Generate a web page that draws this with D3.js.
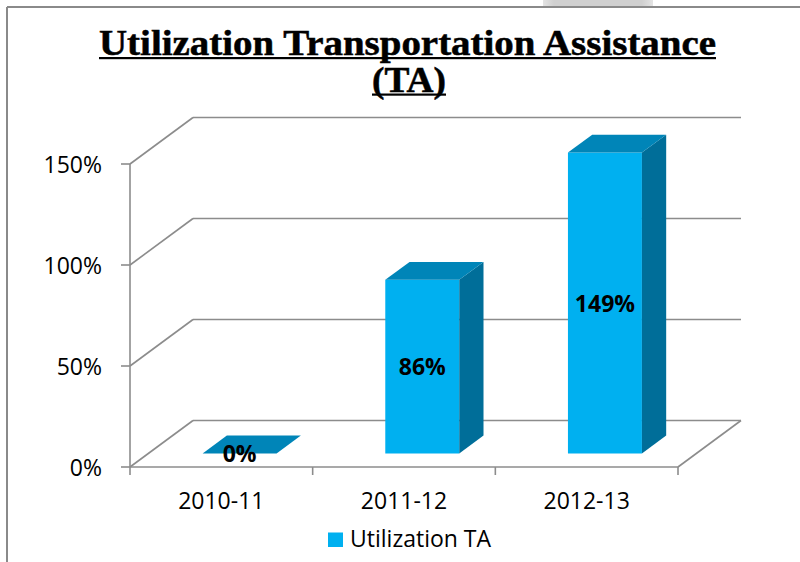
<!DOCTYPE html>
<html>
<head>
<meta charset="utf-8">
<script src="https://cdn.jsdelivr.net/npm/d3@7"></script>
<style>
  html, body { margin: 0; padding: 0; background: #fff; }
  svg { display: block; }
</style>
</head>
<body>
<svg id="chart" width="800" height="562"></svg>
<script>
// ---- data ----
const categories = ["2010-11", "2011-12", "2012-13"];
const values = [0, 86, 149];
const valueLabels = ["0%", "86%", "149%"];
const yTicks = [0, 50, 100, 150];
const yTickLabels = ["0%", "50%", "100%", "150%"];
const seriesName = "Utilization TA";
const titleLines = ["Utilization Transportation Assistance", "(TA)"];

// ---- layout ----
const svg = d3.select("#chart");
const DX = 63, DY = -46.5;          // depth vector of the 3D box
const F0 = 0.29, F1 = 0.675;        // depth fraction of bars (front / back)
const gridColor = "#8c8c8c";
const colFront = "#00b0f0", colTop = "#0085b8", colSide = "#006e99";

const x = d3.scaleBand().domain(categories).range([130, 678]).padding(0);
const y = d3.scaleLinear().domain([0, 150]).range([467, 164]);
const barW = x.bandwidth() * 0.405;

const pt = (px, py, f) => [px + f * DX, py + f * DY];
const poly = pts => pts.map(p => p.join(",")).join(" ");

// frame of the picture
const grad = svg.append("defs").append("linearGradient").attr("id", "tab")
  .attr("x1", 0).attr("x2", 1).attr("y1", 0).attr("y2", 0);
grad.append("stop").attr("offset", "0").attr("stop-color", "#e4e4e4");
grad.append("stop").attr("offset", "0.1").attr("stop-color", "#d0d0d0");
grad.append("stop").attr("offset", "0.9").attr("stop-color", "#d0d0d0");
grad.append("stop").attr("offset", "1").attr("stop-color", "#e4e4e4");
svg.append("rect").attr("x", 543).attr("y", 0).attr("width", 110).attr("height", 7).attr("fill", "url(#tab)");
svg.append("line").attr("x1", 7).attr("y1", 7).attr("x2", 800).attr("y2", 7)
  .attr("stroke", "#8a8a8a").attr("stroke-width", 2);
svg.append("line").attr("x1", 7).attr("y1", 7).attr("x2", 7).attr("y2", 562)
  .attr("stroke", "#8a8a8a").attr("stroke-width", 2);

// title
const title = svg.append("g").attr("fill", "#000").attr("stroke", "#000").attr("stroke-width", 0.5);
title.append("text").attr("x", 407.5).attr("y", 55)
  .attr("text-anchor", "middle")
  .attr("font-family", "'Liberation Serif', 'DejaVu Serif', serif")
  .attr("font-weight", "bold").attr("font-size", 35)
  .attr("textLength", 617).attr("lengthAdjust", "spacingAndGlyphs")
  .text(titleLines[0]);
title.append("text").attr("x", 409).attr("y", 92)
  .attr("text-anchor", "middle")
  .attr("font-family", "'Liberation Serif', 'DejaVu Serif', serif")
  .attr("font-weight", "bold").attr("font-size", 35)
  .attr("textLength", 74).attr("lengthAdjust", "spacingAndGlyphs")
  .text(titleLines[1]);
title.append("rect").attr("x", 99).attr("y", 57).attr("width", 617).attr("height", 2.2).attr("stroke", "none");
title.append("rect").attr("x", 372).attr("y", 93.5).attr("width", 74).attr("height", 2.2).attr("stroke", "none");

// grid: back wall and left wall
const g = svg.append("g").attr("fill", "none").attr("stroke", gridColor).attr("stroke-width", 1.6);
const [xL, xR] = x.range();
yTicks.forEach(t => {
  const yy = y(t);
  const b0 = pt(xL, yy, 1), b1 = pt(xR, yy, 1);
  g.append("line").attr("x1", b0[0]).attr("y1", b0[1]).attr("x2", b1[0]).attr("y2", b1[1]);
  g.append("line").attr("x1", xL).attr("y1", yy).attr("x2", b0[0]).attr("y2", b0[1]);
  g.append("line").attr("x1", xL - 9).attr("y1", yy).attr("x2", xL).attr("y2", yy);
});
// floor: front edge and right edge
const fr = pt(xR, y(0), 1);
g.append("line").attr("x1", xL).attr("y1", y(0)).attr("x2", xR).attr("y2", y(0));
g.append("line").attr("x1", xR).attr("y1", y(0)).attr("x2", fr[0]).attr("y2", fr[1]);
// vertical axis
g.append("line").attr("x1", xL).attr("y1", y(150)).attr("x2", xL).attr("y2", y(0));
// category ticks
const xTickPos = categories.map(c => x(c)).concat([xR]);
xTickPos.forEach(px => {
  g.append("line").attr("x1", px).attr("y1", y(0)).attr("x2", px).attr("y2", y(0) + 8);
});

// y tick labels
svg.append("g").selectAll("text").data(yTicks).join("text")
  .attr("x", 102).attr("y", d => y(d) + 8.5)
  .attr("text-anchor", "end")
  .attr("font-family", "'Open Sans', sans-serif").attr("font-size", 23).attr("fill", "#000")
  .text((d, i) => yTickLabels[i]);

// x labels
svg.append("g").selectAll("text").data(categories).join("text")
  .attr("x", d => x(d) + x.bandwidth() / 2).attr("y", 509)
  .attr("text-anchor", "middle")
  .attr("font-family", "'Open Sans', sans-serif").attr("font-size", 23).attr("fill", "#000")
  .text(d => d);

// bars
const bars = svg.append("g");
categories.forEach((c, i) => {
  const x0 = x(c) + (x.bandwidth() - barW) / 2, x1 = x0 + barW;
  const yT = y(values[i]), yB = y(0);
  const ftl = pt(x0, yT, F0), ftr = pt(x1, yT, F0), fbr = pt(x1, yB, F0), fbl = pt(x0, yB, F0);
  const btl = pt(x0, yT, F1), btr = pt(x1, yT, F1), bbr = pt(x1, yB, F1);
  bars.append("polygon").attr("points", poly([ftl, ftr, fbr, fbl])).attr("fill", colFront);
  bars.append("polygon").attr("points", poly([ftr, btr, bbr, fbr])).attr("fill", colSide);
  bars.append("polygon").attr("points", poly([ftl, ftr, btr, btl])).attr("fill", colTop);
  // value label centered on front face
  const cx = (ftl[0] + ftr[0]) / 2, cy = (ftl[1] + fbl[1]) / 2;
  bars.append("text").attr("x", cx).attr("y", cy + 8.5)
    .attr("text-anchor", "middle")
    .attr("font-family", "'Open Sans', sans-serif").attr("font-weight", "bold")
    .attr("font-size", 23).attr("fill", "#000")
    .text(valueLabels[i]);
});

// legend
const lg = svg.append("g");
lg.append("rect").attr("x", 328).attr("y", 532.5).attr("width", 15).attr("height", 14.5).attr("fill", colFront);
lg.append("text").attr("x", 350).attr("y", 547)
  .attr("font-family", "'Open Sans', sans-serif").attr("font-size", 23).attr("fill", "#000")
  .text(seriesName);
</script>
</body>
</html>
